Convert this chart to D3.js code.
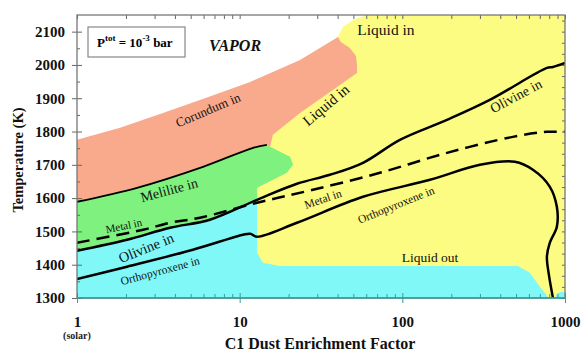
<!DOCTYPE html>
<html>
<head>
<meta charset="utf-8">
<script src="https://cdn.jsdelivr.net/npm/d3@7"></script>
<style>
body { margin: 0; background: #fff; }
svg { display: block; font-family: "Liberation Serif", "Times New Roman", serif; }
</style>
</head>
<body>
<div id="chart"></div>
<script>
// Phase fields as [C1 dust enrichment, temperature K]
var yellowField = [[60.6,2150],[1000,2150],[1000,1300],[11.0,1300],[11.0,1700],[21.5,1990],
  [40.2,2084],[43.1,2114],[49.7,2135]];
var corundumField = [[1,1775],[1.84,1811],[3.24,1853],[5.7,1895],[11.6,1949],[23.5,2015],[40.2,2084],
  [41.9,2069],[47.6,2051],[51.9,2027],[52.6,2000],[52.6,1976],[35.9,1919],[23.5,1856],[16.0,1790],
  [15.4,1754],[14.7,1760],[12.1,1751],[5.95,1694],[2.34,1631],[1,1589]];
var meliliteField = [[1,1589],[2.34,1631],[5.95,1694],[12.1,1751],[14.7,1760],[15.4,1754],[17.7,1739],
  [20.4,1724],[21.3,1700],[19.5,1676],[12.8,1631],[12.8,1595],[6.56,1535],[3.73,1511],[2.03,1475],[1,1442]];
var cyanField = [[1,1300],[1,1442],[2.03,1475],[3.73,1511],[6.56,1535],[12.8,1595],[12.8,1436],[13.9,1406],
  [17.7,1396],[514,1396],[608,1376],[701,1334],[785,1304],[785,1300]];
var cyanCorner = [[867,1300],[891,1313],[930,1318],[1000,1318],[1000,1300]];

// Boundary curves
var meliliteIn = [[1,1589],[2.34,1631],[5.95,1694],[12.1,1751],[14.7,1760]];
var olivineIn = [[1,1442],[2.03,1475],[3.73,1511],[6.56,1535],[12.8,1595],[22.5,1643],[35.9,1670],
  [57.3,1706],[96.6,1775],[188,1835],[345,1895],[774,1991],[843,1994],[1000,2006]];
var metalIn = [[1,1466],[2.55,1505],[3.73,1526],[5.7,1541],[12.8,1586],[28.2,1625],[72.8,1676],
  [188,1736],[478,1784],[774,1799],[1000,1799]];
var orthopyroxeneIn = [[1,1357],[2.03,1394],[5.16,1445],[10.5,1490],[11.6,1493],[12.8,1484],[22.5,1526],
  [57.3,1604],[148,1655],[300,1700],[492,1709],[635,1685],[807,1634],[891,1574],[891,1514],
  [807,1466],[774,1424],[796,1370],[843,1300]];

// Axis ticks
var xTicks = [1, 10, 100, 1000];
var xTickLabels = ["1", "10", "100", "1000"];
var yTicks = [1300, 1400, 1500, 1600, 1700, 1800, 1900, 2000, 2100];

// Field labels: text and data anchor
var labelText = ["VAPOR", "Corundum in", "Liquid in", "Liquid in", "Melilite in", "Metal in",
  "Olivine in", "Orthopyroxene in", "Metal in", "Orthopyroxene in", "Olivine in", "Liquid out"];
var labelAt = [[9.36,2060],[6.38,1865],[79.3,2105],[33.9,1880],[3.68,1625],[1.94,1517],
  [2.66,1451],[3.24,1382],[32.5,1598],[91.4,1580],[499,1907],[148,1421]];

var w = 581, h = 354;
var margins = {top: 15, right: 16, bottom: 56, left: 77};
var width = w - margins.left - margins.right;
var height = h - margins.top - margins.bottom;

var x = d3.scaleLog().domain([1, 1000]).range([0, width]);
var y = d3.scaleLinear().domain([1300, 2150]).range([height, 0]);

var svg = d3.select("#chart").append("svg")
    .attr("width", w)
    .attr("height", h);
var g = svg.append("g")
    .attr("transform", "translate(" + margins.left + "," + margins.top + ")");

g.append("clipPath").attr("id", "plotclip")
  .append("rect").attr("width", width).attr("height", height);

var plot = g.append("g").attr("clip-path", "url(#plotclip)");

var field = d3.line()
    .x(function(d) { return x(d[0]); })
    .y(function(d) { return y(d[1]); })
    .curve(d3.curveLinearClosed);
var curve = d3.line()
    .x(function(d) { return x(d[0]); })
    .y(function(d) { return y(d[1]); })
    .curve(d3.curveCatmullRom.alpha(0.5));

// fields, back to front
plot.append("path").datum(yellowField).attr("d", field).attr("fill", "#fcfc82");
plot.append("path").datum(corundumField).attr("d", field).attr("fill", "#f9aa8c");
plot.append("path").datum(meliliteField).attr("d", field).attr("fill", "#7ef17e");
plot.append("path").datum(cyanField).attr("d", field).attr("fill", "#80f8f8");
plot.append("path").datum(cyanCorner).attr("d", field).attr("fill", "#80f8f8");

// boundary lines
plot.append("path").datum(meliliteIn).attr("d", curve)
    .attr("fill", "none").attr("stroke", "#000").attr("stroke-width", 1.8);
plot.append("path").datum(olivineIn).attr("d", curve)
    .attr("fill", "none").attr("stroke", "#000").attr("stroke-width", 2.5);
plot.append("path").datum(orthopyroxeneIn).attr("d", curve)
    .attr("fill", "none").attr("stroke", "#000").attr("stroke-width", 2.5);
plot.append("path").datum(metalIn).attr("d", curve)
    .attr("fill", "none").attr("stroke", "#000").attr("stroke-width", 2.5)
    .attr("stroke-dasharray", "13,7");

// labels (size, angle, style per label)
var labelStyle = [
  {size: 16, angle: 0, weight: "bold", italic: true},
  {size: 13, angle: -23},
  {size: 15.5, angle: 0},
  {size: 15, angle: -40},
  {size: 14, angle: -15},
  {size: 11, angle: -12},
  {size: 14.5, angle: -22},
  {size: 11.5, angle: -15},
  {size: 11.5, angle: -19},
  {size: 11.5, angle: -22},
  {size: 14, angle: -28},
  {size: 13.5, angle: 0}
];
labelText.forEach(function(t, i) {
  var s = labelStyle[i];
  var px = x(labelAt[i][0]), py = y(labelAt[i][1]);
  g.append("text")
    .attr("transform", "translate(" + px + "," + py + ") rotate(" + s.angle + ")")
    .attr("text-anchor", "middle")
    .attr("dy", "0.35em")
    .style("font-size", s.size + "px")
    .style("font-weight", s.weight || "normal")
    .style("font-style", s.italic ? "italic" : "normal")
    .attr("fill", "#111")
    .text(t);
});

// pressure box
g.append("rect")
  .attr("x", 11).attr("y", 12).attr("width", 97).attr("height", 30)
  .attr("fill", "#fff").attr("stroke", "#888").attr("stroke-width", 1.2);
var pt = g.append("text").attr("x", 20).attr("y", 32)
  .style("font-size", "13px").style("font-weight", "bold");
pt.append("tspan").text("P");
pt.append("tspan").attr("dy", -6).style("font-size", "9px").text("tot");
pt.append("tspan").attr("dy", 6).text(" = 10");
pt.append("tspan").attr("dy", -6).style("font-size", "9px").text("-3");
pt.append("tspan").attr("dy", 6).text(" bar");

// minor ticks
var minorX = [];
[1, 10, 100].forEach(function(dec) {
  for (var k = 2; k <= 9; k++) minorX.push(dec * k);
});
var minorY = d3.range(1350, 2150, 100);
var rightY = d3.range(1300, 2150, 100 / 3);

// left axis
var left = g.append("g").call(d3.axisLeft(y).tickValues(yTicks).tickSize(5).tickPadding(7)
  .tickFormat(d3.format("d")));
left.append("g").call(d3.axisRight(y).tickValues(yTicks).tickSize(5).tickFormat(""));
left.append("g").call(d3.axisRight(y).tickValues(minorY).tickSize(3).tickFormat(""));

// bottom axis
var bottom = g.append("g").attr("transform", "translate(0," + height + ")")
  .call(d3.axisBottom(x).tickValues(xTicks).tickSize(5).tickPadding(13)
    .tickFormat(function(d, i) { return xTickLabels[i]; }));
bottom.append("g").call(d3.axisTop(x).tickValues(xTicks).tickSize(5).tickFormat(""));
bottom.append("g").call(d3.axisTop(x).tickValues(minorX).tickSize(4).tickFormat(""));

// top axis
var top = g.append("g").call(d3.axisBottom(x).tickValues(minorX.concat(xTicks)).tickSize(4).tickFormat(""));

// right axis
var right = g.append("g").attr("transform", "translate(" + width + ",0)")
  .call(d3.axisLeft(y).tickValues(rightY).tickSize(3).tickFormat(""));

g.selectAll(".domain").remove();
g.selectAll(".tick line").attr("stroke", "#666");
left.selectAll("text").style("font-size", "15px").style("font-weight", "bold")
  .style("font-family", "Liberation Serif").attr("fill", "#111");
bottom.selectAll("text").style("font-size", "15px").style("font-weight", "bold")
  .style("font-family", "Liberation Serif").attr("fill", "#111");
bottom.selectAll(".tick line").attr("stroke", "#3a9c9c");

// frame
g.append("rect").attr("width", width).attr("height", height)
  .attr("fill", "none").attr("stroke", "#777").attr("stroke-width", 1.3);
g.append("line").attr("x1", 0).attr("x2", width).attr("y1", height).attr("y2", height)
  .attr("stroke", "#3a9c9c").attr("stroke-width", 1.5);

// axis titles
g.append("text").attr("x", 0).attr("y", height + 41)
  .attr("text-anchor", "middle")
  .style("font-size", "10px").style("font-weight", "bold").attr("fill", "#222")
  .text("(solar)");
g.append("text").attr("x", width / 2 - 1).attr("y", height + 51)
  .attr("text-anchor", "middle")
  .style("font-size", "16px").style("font-weight", "bold").attr("fill", "#111")
  .text("C1 Dust Enrichment Factor");
g.append("text")
  .attr("transform", "translate(" + (23 - margins.left) + "," + (160 - margins.top) + ") rotate(-90)")
  .attr("text-anchor", "middle")
  .style("font-size", "14.5px").style("font-weight", "bold").attr("fill", "#111")
  .text("Temperature (K)");
</script>
</body>
</html>
